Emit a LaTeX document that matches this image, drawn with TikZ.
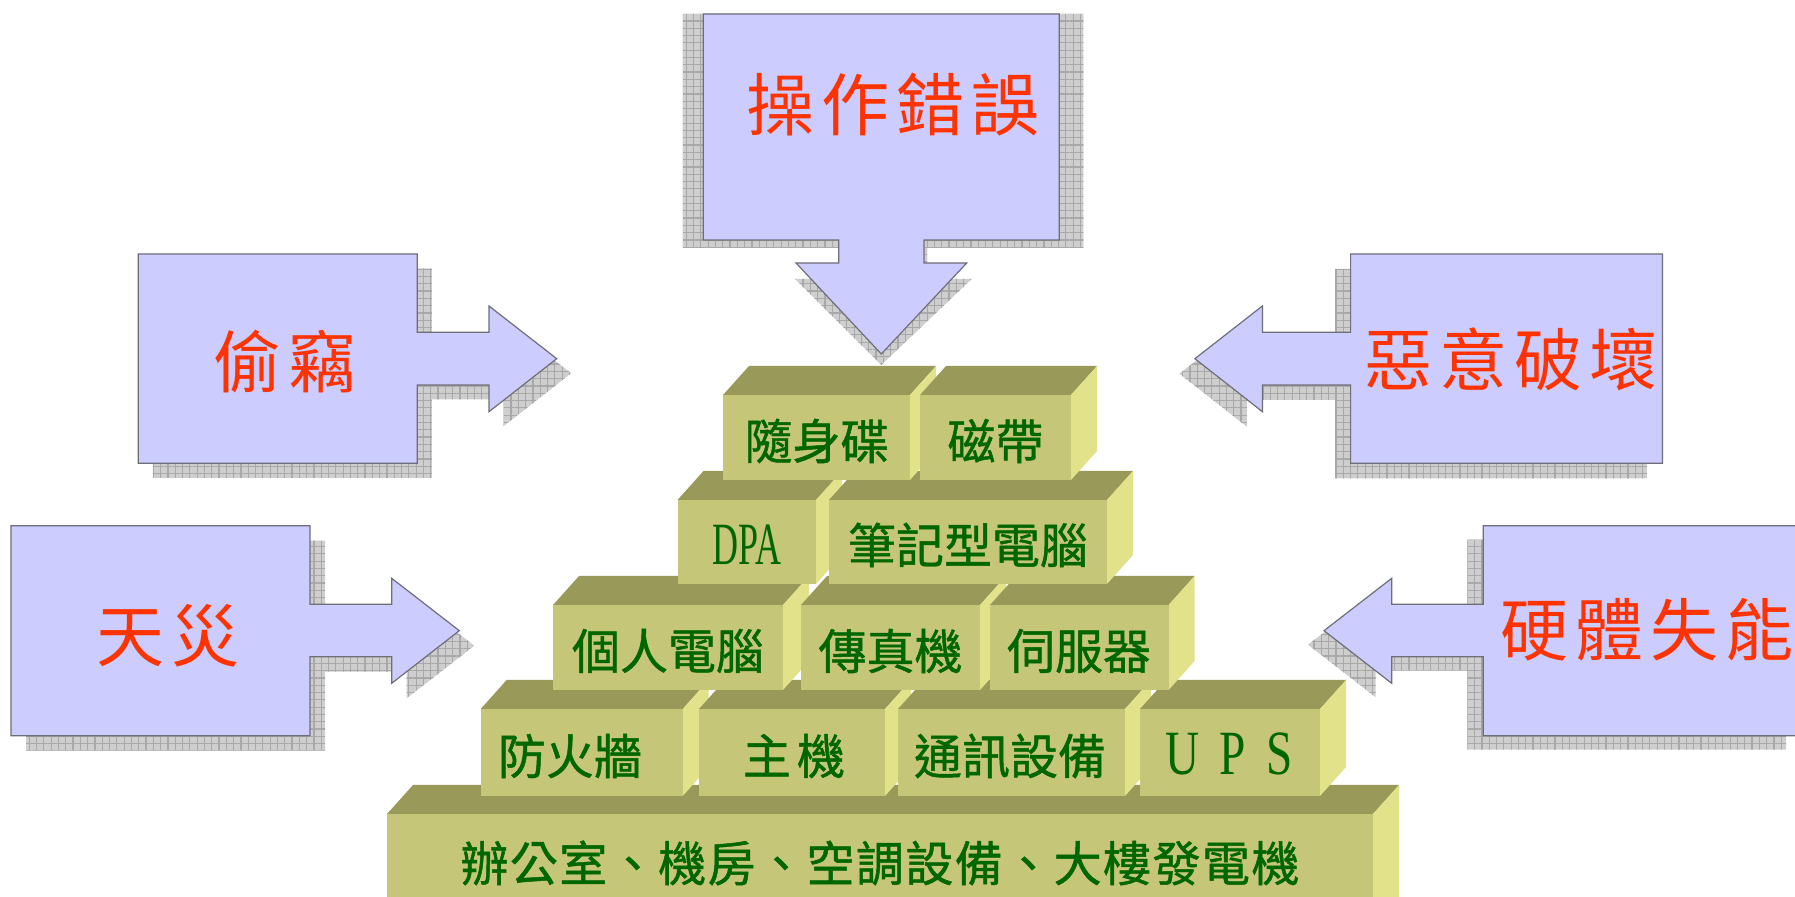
\documentclass[tikz,border=0pt]{standalone}
\usepackage{fontspec}
\setmainfont{Liberation Serif}
\newfontfamily\redcjk[LetterSpace=10]{Noto Sans CJK TC}
\newfontfamily\grncjk[FakeBold=1]{Noto Sans CJK TC}
\newfontfamily\grnwide[LetterSpace=3,FakeBold=1]{Noto Sans CJK TC}
\newfontfamily\narrowser[FakeStretch=0.6]{Liberation Serif}
\newfontfamily\upsser[FakeStretch=0.75]{Liberation Serif}
\usetikzlibrary{patterns.meta}
\definecolor{boxblue}{RGB}{204,204,255}
\definecolor{boxline}{RGB}{110,110,120}
\definecolor{shfill}{RGB}{206,206,206}
\definecolor{shline}{RGB}{168,168,168}
\definecolor{redtxt}{RGB}{255,51,0}
\definecolor{grntxt}{RGB}{0,102,0}
\definecolor{frontc}{RGB}{198,198,120}
\definecolor{topc}{RGB}{153,153,90}
\definecolor{sidec}{RGB}{226,226,138}
\tikzset{
  shadowst/.style={fill=shfill, postaction={pattern={Hatch[angle=0,distance=3.65pt,line width=0.6pt]}, pattern color=shline}},
  arrowst/.style={fill=boxblue, draw=boxline, line width=0.6pt, line join=miter},
  redlabel/.style={inner sep=0pt, text=redtxt, font=\redcjk\fontsize{34pt}{40pt}\selectfont},
  grnlabel/.style={inner sep=0pt, text=grntxt, font=\grncjk\fontsize{24pt}{28pt}\selectfont},
}
\newcommand\pblk[4]{%
  \fill[topc] (#1,#3) -- ({#1+26},{#3-29}) -- ({#2+26},{#3-29}) -- (#2,#3) -- cycle;
  \fill[sidec] (#2,#3) -- ({#2+26},{#3-29}) -- ({#2+26},{#4-29}) -- (#2,#4) -- cycle;
  \fill[frontc] (#1,#3) rectangle (#2,#4);
}
\def\TopPath{(703.3,14) -- (1059.3,14) -- (1059.3,240) -- (924,240) -- (924,263) -- (966.7,263) -- (881.3,354) -- (796,263) -- (838.7,263) -- (838.7,240) -- (703.3,240) -- cycle}
\def\TopShadow{(682.7,14) -- (1083.3,14) -- (1083.3,248) -- (927,248) -- (927,279) -- (971.7,279) -- (881.3,365) -- (795,279) -- (838.7,279) -- (838.7,248) -- (682.7,248) -- cycle}
\def\LOnePath{(138.3,254) -- (417.3,254) -- (417.3,332.3) -- (489,332.3) -- (489,306) -- (556.7,358.7) -- (489,411.7) -- (489,385) -- (417.3,385) -- (417.3,463.3) -- (138.3,463.3) -- cycle}
\def\LTwoPath{(11,525.7) -- (310,525.7) -- (310,604.3) -- (391.7,604.3) -- (391.7,578.3) -- (459.3,630.7) -- (391.7,683.3) -- (391.7,656.7) -- (310,656.7) -- (310,735.7) -- (11,735.7) -- cycle}
\def\ROnePath{(1662.4,254) -- (1350.6,254) -- (1350.6,332.3) -- (1262.4,332.3) -- (1262.4,306) -- (1194.9,358.7) -- (1262.4,411.7) -- (1262.4,385) -- (1350.6,385) -- (1350.6,463.3) -- (1662.4,463.3) -- cycle}
\def\RTwoPath{(1802,525.7) -- (1483.3,525.7) -- (1483.3,604.3) -- (1391.7,604.3) -- (1391.7,578.3) -- (1324,630.7) -- (1391.7,683.3) -- (1391.7,656.7) -- (1483.3,656.7) -- (1483.3,735.7) -- (1802,735.7) -- cycle}
\begin{document}
\begin{tikzpicture}[x=0.5pt,y=-0.5pt]
\clip (0,0) rectangle (1795,897);
\fill[white] (0,0) rectangle (1795,897);
% shadows
\path[shadowst] \TopShadow;
\path[shadowst, shift={(14.5,14.5)}] \LOnePath;
\path[shadowst, shift={(15,15)}] \LTwoPath;
\path[shadowst, shift={(-15.5,15)}] \ROnePath;
\path[shadowst, shift={(-16,14)}] \RTwoPath;
% arrow boxes
\path[arrowst] \TopPath;
\path[arrowst] \LOnePath;
\path[arrowst] \LTwoPath;
\path[arrowst] \ROnePath;
\path[arrowst] \RTwoPath;
\node[redlabel] (czcw) at (893,105) {操作錯誤};
\node[redlabel] (tq) at (285,362) {偷竊};
\node[redlabel] (eyph) at (1511,359) {惡意破壞};
\node[redlabel] (tz) at (168,636) {天災};
\node[redlabel] (ytsn) at (1647,630) {硬體失能};
% pyramid
\pblk{387}{1373}{814}{940}
\pblk{480.7}{682.7}{709}{796}
\pblk{699}{885}{709}{796}
\pblk{898}{1125}{709}{796}
\pblk{1140}{1320}{709}{796}
\pblk{553}{783}{605}{690}
\pblk{801}{980}{605}{690}
\pblk{990}{1168.6}{605}{690}
\pblk{677.5}{816}{500}{584}
\pblk{829}{1107}{500}{584}
\pblk{723}{910}{395}{480}
\pblk{920}{1071}{395}{480}
\node[grnlabel] (b1) at (816.5,441) {隨身碟};
\node[grnlabel] (b2) at (995.5,441) {磁帶};
\node[inner sep=0pt, text=grntxt, font=\narrowser\fontsize{30pt}{36pt}\selectfont] (b3) at (747,545) {DPA};
\node[grnlabel] (b4) at (968,545) {筆記型電腦};
\node[grnlabel] (b5) at (668,651) {個人電腦};
\node[grnlabel] (b6) at (890.5,651) {傳真機};
\node[grnlabel] (b7) at (1079,651) {伺服器};
\node[grnlabel] (b8) at (570,756) {防火牆};
\node[grnlabel] (b9) at (794,756) {主\hspace{3pt}機};
\node[grnlabel] (b10) at (1010,756) {通訊設備};
\node[inner sep=0pt, text=grntxt, font=\upsser\fontsize{31.5pt}{36pt}\selectfont] (b11) at (1229,754) {U\hspace{10pt}P\hspace{10pt}S};
\node[inner sep=0pt, text=grntxt, font=\grnwide\fontsize{24pt}{28pt}\selectfont] (b12) at (880,863) {辦公室、機房、空調設備、大樓發電機};
\end{tikzpicture}
\end{document}
